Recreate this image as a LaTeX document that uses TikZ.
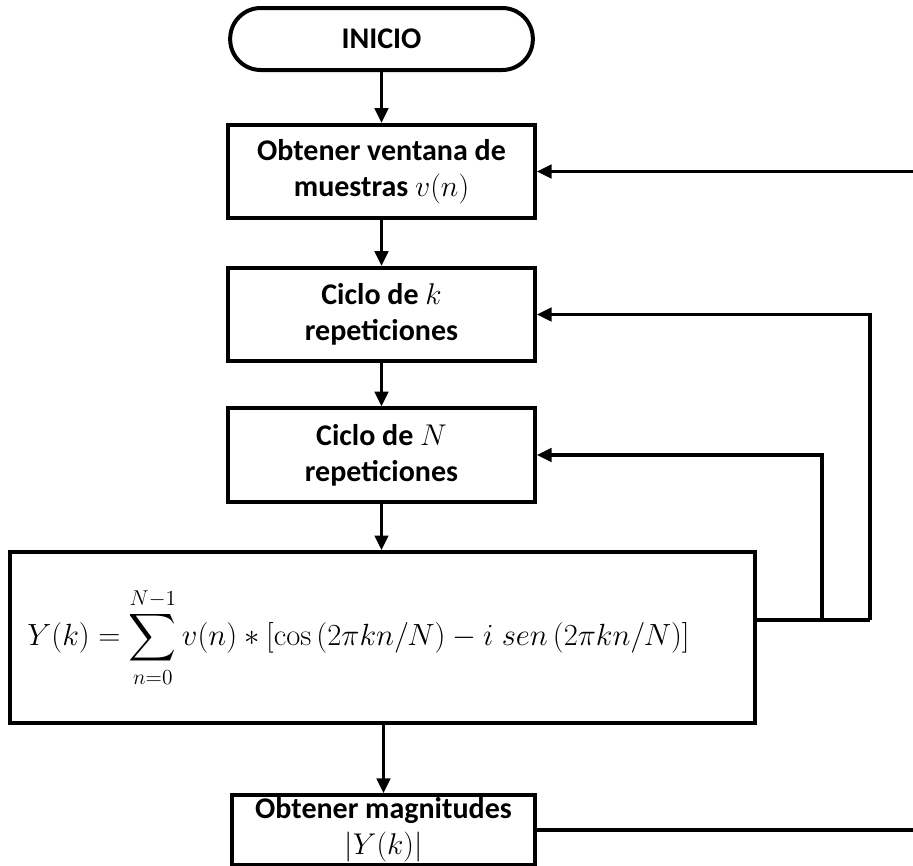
\RequirePackage{fix-cm}
\documentclass[tikz,border=0pt]{standalone}
\usepackage{amsmath}
\usepackage[no-math]{fontspec}
\setmainfont{Carlito}
\usetikzlibrary{positioning,arrows.meta,calc}

\begin{document}
\begin{tikzpicture}[x=0.75pt,y=-0.75pt,
  font=\fontsize{22.5}{27}\selectfont\bfseries,
  proc/.style={draw,line width=3pt,align=center,minimum width=230pt,minimum height=70pt,inner sep=2pt},
  term/.style={proc,rounded corners=23pt,minimum width=227pt,minimum height=46.5pt},
  flow/.style={line width=2.5pt,-{Triangle[length=11pt,width=10pt]}},
  link/.style={line width=2.5pt}]
  \useasboundingbox (0,0) rectangle (913,865);
  \node[term] (inicio) at (381.5,39) {INICIO};
  \node[proc] (ventana) at (381.5,171.5) {Obtener ventana de\\muestras $v(n)$};
  \node[proc] (ciclok) at (381.5,314.5) {Ciclo de $k$\\repeticiones};
  \node[proc] (ciclon) at (381.5,455) {Ciclo de $N$\\repeticiones};
  \node[proc,minimum width=559pt,minimum height=128pt,font=\fontsize{23}{28}\selectfont] (dft) at (382.5,637.5)
    {\hspace*{-36pt}$\displaystyle Y(k)=\sum_{n=0}^{N-1} v(n)*[\cos\,(2\pi kn/N)-i\;sen\,(2\pi kn/N)]$};
  \node[proc,minimum width=227pt,minimum height=49pt] (mag) at (383.5,830) {Obtener magnitudes\\$|Y(k)|$};
  \coordinate (j1) at (822,620);
  \coordinate (j2) at (870,620);
  \coordinate (in) at (913,171.5);
  \coordinate (out) at (913,830);
  \draw[flow] (inicio) -- (ventana);
  \draw[flow] (ventana) -- (ciclok);
  \draw[flow] (ciclok) -- (ciclon);
  \draw[flow] (ciclon) -- (dft.north -| ciclon);
  \draw[flow] (dft.south -| mag) -- (mag);
  \draw[link] (dft.east |- j1) -- (j2);
  \draw[flow] (j1) |- (ciclon.east);
  \draw[flow] (j2) |- (ciclok.east);
  \draw[flow] (in) -- (ventana.east);
  \draw[link] (mag.east) -- (out);
\end{tikzpicture}
\end{document}
